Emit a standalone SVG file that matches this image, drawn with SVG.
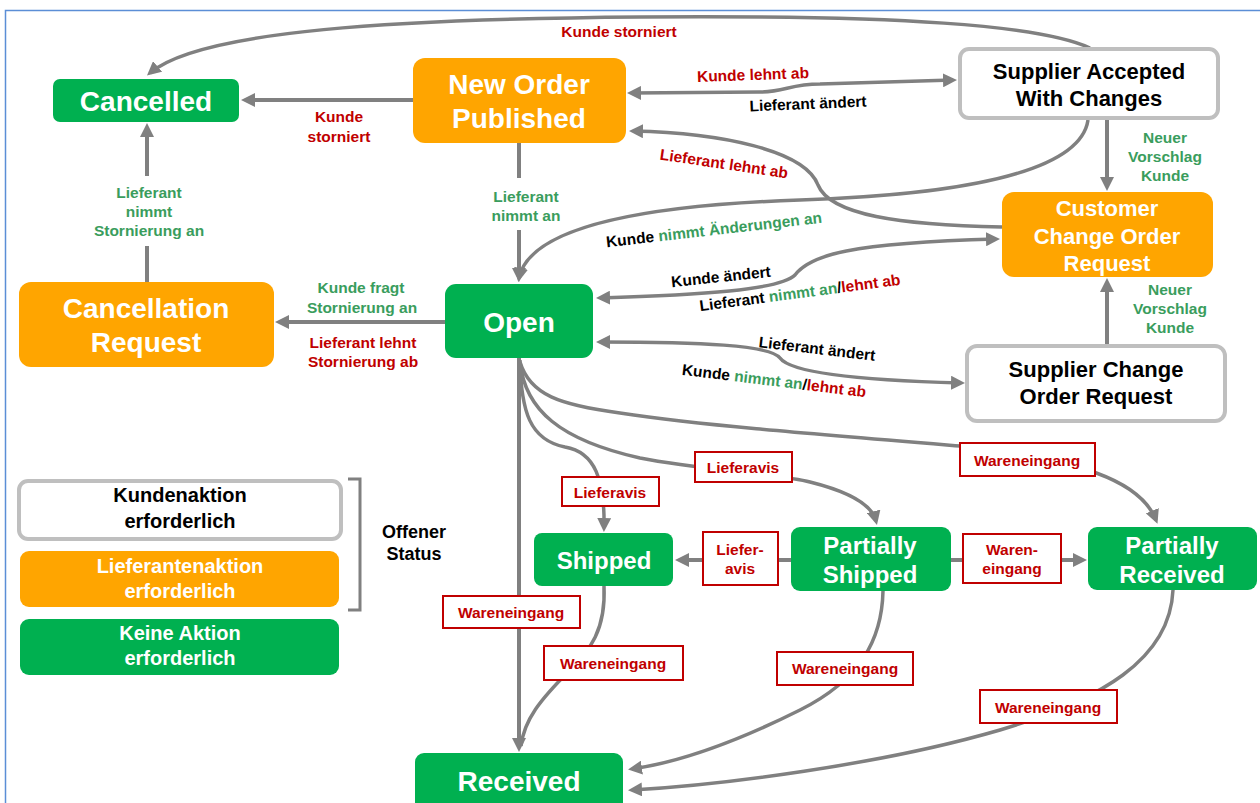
<svg xmlns="http://www.w3.org/2000/svg" width="1260" height="803" viewBox="0 0 1260 803">
<defs>
<marker id="ah" markerUnits="userSpaceOnUse" markerWidth="14" markerHeight="14" refX="10" refY="7" orient="auto-start-reverse"><path d="M0,0 L14,7 L0,14 z" fill="#808080"/></marker>
<style>
text{font-family:"Liberation Sans",Arial,sans-serif;font-weight:bold;}
.g{fill:#00B050;}
.o{fill:#FFA500;}
.w{fill:#FFFFFF;stroke:#BFBFBF;stroke-width:4;}
.nt{fill:#FFFFFF;text-anchor:middle;}
.bt{fill:#000000;text-anchor:middle;}
.e{fill:none;stroke:#808080;stroke-width:3.5;}
.es{fill:none;stroke:#808080;stroke-width:4;}
.lb{font-size:15.5px;text-anchor:middle;}
.r{fill:#C00000;}
.gr{fill:#3A9D5D;}
.k{fill:#000000;}
.bx{fill:#FFFFFF;stroke:#C00000;stroke-width:2;}
</style>
</defs>
<rect x="0" y="0" width="1260" height="803" fill="#FFFFFF"/>
<rect x="5.5" y="10.5" width="1300" height="900" fill="none" stroke="#5B8ED6" stroke-width="1.5"/>

<g id="connectors">
<path class="es" d="M413,100 L245,100" marker-end="url(#ah)"/>
<path class="e" d="M1090,48 C1040,25 900,15 640,17 C400,19 200,30 150,73" marker-end="url(#ah)"/>
<path class="e" d="M631,93 L760,92 C785,92 790,84 820,84 L953,80" marker-start="url(#ah)" marker-end="url(#ah)"/>
<path class="e" d="M1002,227 C900,225 830,215 818,185 C805,150 720,133 633,131" marker-end="url(#ah)"/>
<path class="e" d="M1088,120 C1080,175 950,195 800,200 C650,205 530,225 519,278" marker-end="url(#ah)"/>
<path class="e" d="M600,298 C700,295 780,290 795,275 C810,255 850,243 996,239" marker-start="url(#ah)" marker-end="url(#ah)"/>
<path class="e" d="M600,342 C700,342 770,345 780,358 C790,372 850,380 961,383" marker-start="url(#ah)" marker-end="url(#ah)"/>
<path class="es" d="M519,143 L519,178"/>
<path class="es" d="M519,230 L519,278" marker-end="url(#ah)"/>
<path class="es" d="M445,322 L279,322" marker-end="url(#ah)"/>
<path class="es" d="M147,282 L147,246"/>
<path class="es" d="M147,176 L147,127" marker-end="url(#ah)"/>
<path class="es" d="M1107,118 L1107,187" marker-end="url(#ah)"/>
<path class="es" d="M1107,345 L1107,282" marker-end="url(#ah)"/>
<path class="es" d="M519,358 L519,748" marker-end="url(#ah)"/>
<path class="e" d="M520,360 C521,412 530,440 565,447 C595,452 605,480 604,528" marker-end="url(#ah)"/>
<path class="e" d="M520,362 C525,410 560,440 640,458 C700,470 780,474 810,482 C850,492 872,505 876,521" marker-end="url(#ah)"/>
<path class="e" d="M520,362 C530,395 560,405 620,413 C700,425 800,433 960,446 C1080,460 1140,480 1156,520" marker-end="url(#ah)"/>
<path class="es" d="M791,560 L679,560" marker-end="url(#ah)"/>
<path class="es" d="M951,560 L1083,560" marker-end="url(#ah)"/>
<path class="e" d="M604,586 C606,630 590,650 570,670 C540,700 524,720 521,746"/>
<path class="e" d="M883,591 C882,640 860,680 800,710 C740,740 680,762 632,769" marker-end="url(#ah)"/>
<path class="e" d="M1173,590 C1170,660 1100,700 1000,730 C880,765 720,785 632,790" marker-end="url(#ah)"/>
</g>

<g id="edge-labels">
<text class="lb r" x="619" y="37">Kunde storniert</text>
<text class="lb r" x="339" y="122">Kunde</text>
<text class="lb r" x="339" y="142">storniert</text>
<text class="lb gr" x="526" y="202">Lieferant</text>
<text class="lb gr" x="526" y="221">nimmt  an</text>
<text class="lb gr" x="149" y="198">Lieferant</text>
<text class="lb gr" x="149" y="217">nimmt</text>
<text class="lb gr" x="149" y="236">Stornierung an</text>
<text class="lb r" x="753" y="80" transform="rotate(-2 753 75)">Kunde lehnt ab</text>
<text class="lb k" x="808" y="109" transform="rotate(-2.4 808 104)">Lieferant ändert</text>
<text class="lb r" x="724" y="169" transform="rotate(8.4 724 164)">Lieferant lehnt ab</text>
<text class="lb gr" x="1165" y="143">Neuer</text>
<text class="lb gr" x="1165" y="162">Vorschlag</text>
<text class="lb gr" x="1165" y="181">Kunde</text>
<text class="lb" x="714" y="235" transform="rotate(-6.5 714 230)"><tspan class="k">Kunde </tspan><tspan class="gr">nimmt  Änderungen an</tspan></text>
<text class="lb k" x="721" y="282" transform="rotate(-6 721 277)">Kunde ändert</text>
<text class="lb" x="800" y="298" transform="rotate(-7.5 800 293)"><tspan class="k">Lieferant </tspan><tspan class="gr">nimmt  an</tspan><tspan class="k">/</tspan><tspan class="r">lehnt ab</tspan></text>
<text class="lb gr" x="361" y="293">Kunde fragt</text>
<text class="lb gr" x="362" y="313">Stornierung an</text>
<text class="lb r" x="363" y="348">Lieferant lehnt</text>
<text class="lb r" x="363" y="367">Stornierung ab</text>
<text class="lb gr" x="1170" y="295">Neuer</text>
<text class="lb gr" x="1170" y="314">Vorschlag</text>
<text class="lb gr" x="1170" y="333">Kunde</text>
<text class="lb k" x="817" y="354" transform="rotate(6.7 817 349)">Lieferant ändert</text>
<text class="lb" x="774" y="386" transform="rotate(7 774 381)"><tspan class="k">Kunde </tspan><tspan class="gr">nimmt  an</tspan><tspan class="k">/</tspan><tspan class="r">lehnt ab</tspan></text>
</g>

<g id="box-labels">
<rect class="bx" x="562" y="477" width="97" height="29"/>
<text class="lb r" x="610" y="497.5">Lieferavis</text>
<rect class="bx" x="695" y="452" width="97" height="30"/>
<text class="lb r" x="743" y="472.5">Lieferavis</text>
<rect class="bx" x="960" y="443" width="135" height="33"/>
<text class="lb r" x="1027" y="465.5">Wareneingang</text>
<rect class="bx" x="703" y="532" width="75" height="53"/>
<text class="lb r" x="740" y="555">Liefer-</text>
<text class="lb r" x="740" y="574">avis</text>
<rect class="bx" x="963" y="534" width="98" height="49"/>
<text class="lb r" x="1012" y="555">Waren-</text>
<text class="lb r" x="1012" y="574">eingang</text>
<rect class="bx" x="443" y="596" width="137" height="32"/>
<text class="lb r" x="511" y="617.5">Wareneingang</text>
<rect class="bx" x="544" y="646" width="139" height="34"/>
<text class="lb r" x="613" y="668.5">Wareneingang</text>
<rect class="bx" x="777" y="652" width="136" height="33"/>
<text class="lb r" x="845" y="673.5">Wareneingang</text>
<rect class="bx" x="980" y="690" width="137" height="33"/>
<text class="lb r" x="1048" y="712.5">Wareneingang</text>
</g>

<g id="node-cancelled">
<rect class="g" x="53" y="79" width="186" height="43" rx="7"/>
<text class="nt" x="146" y="111" font-size="28">Cancelled</text>
</g>
<g id="node-new-order">
<rect class="o" x="413" y="58" width="213" height="85" rx="12"/>
<text class="nt" x="519" y="94" font-size="28">New Order</text>
<text class="nt" x="519" y="128" font-size="28">Published</text>
</g>
<g id="node-supplier-accepted">
<rect class="w" x="960" y="49" width="258" height="69" rx="9"/>
<text class="bt" x="1089" y="79" font-size="22">Supplier Accepted</text>
<text class="bt" x="1089" y="106" font-size="22">With Changes</text>
</g>
<g id="node-customer-change">
<rect class="o" x="1002" y="192" width="211" height="85" rx="12"/>
<text class="nt" x="1107" y="216" font-size="22">Customer</text>
<text class="nt" x="1107" y="244" font-size="22">Change Order</text>
<text class="nt" x="1107" y="271" font-size="22">Request</text>
</g>
<g id="node-open">
<rect class="g" x="445" y="284" width="148" height="74" rx="11"/>
<text class="nt" x="519" y="332" font-size="28">Open</text>
</g>
<g id="node-cancellation-request">
<rect class="o" x="19" y="282" width="255" height="85" rx="12"/>
<text class="nt" x="146" y="318" font-size="28">Cancellation</text>
<text class="nt" x="146" y="352" font-size="28">Request</text>
</g>
<g id="node-supplier-change">
<rect class="w" x="967" y="346" width="258" height="75" rx="10"/>
<text class="bt" x="1096" y="377" font-size="22">Supplier  Change</text>
<text class="bt" x="1096" y="404" font-size="22">Order Request</text>
</g>
<g id="node-shipped">
<rect class="g" x="534" y="533" width="139" height="53" rx="8"/>
<text class="nt" x="604" y="569" font-size="24">Shipped</text>
</g>
<g id="node-partially-shipped">
<rect class="g" x="791" y="527" width="160" height="64" rx="9"/>
<text class="nt" x="870" y="554" font-size="24">Partially</text>
<text class="nt" x="870" y="583" font-size="24">Shipped</text>
</g>
<g id="node-partially-received">
<rect class="g" x="1088" y="527" width="169" height="63" rx="9"/>
<text class="nt" x="1172" y="554" font-size="24">Partially</text>
<text class="nt" x="1172" y="583" font-size="24">Received</text>
</g>
<g id="node-received">
<rect class="g" x="415" y="753" width="208" height="70" rx="9"/>
<text class="nt" x="519" y="791" font-size="28">Received</text>
</g>

<g id="legend">
<rect class="w" x="19" y="481" width="322" height="58" rx="9"/>
<text class="bt" x="180" y="502" font-size="20">Kundenaktion</text>
<text class="bt" x="180" y="528" font-size="20">erforderlich</text>
<rect class="o" x="20" y="551" width="319" height="56" rx="9"/>
<text class="nt" x="180" y="573" font-size="20">Lieferantenaktion</text>
<text class="nt" x="180" y="598" font-size="20">erforderlich</text>
<rect class="g" x="20" y="619" width="319" height="56" rx="9"/>
<text class="nt" x="180" y="640" font-size="20">Keine Aktion</text>
<text class="nt" x="180" y="665" font-size="20">erforderlich</text>
<path d="M348,479 L360,479 L360,610 L348,610" fill="none" stroke="#808080" stroke-width="3"/>
<text class="bt" x="414" y="538" font-size="18">Offener</text>
<text class="bt" x="414" y="560" font-size="18">Status</text>
</g>
</svg>
